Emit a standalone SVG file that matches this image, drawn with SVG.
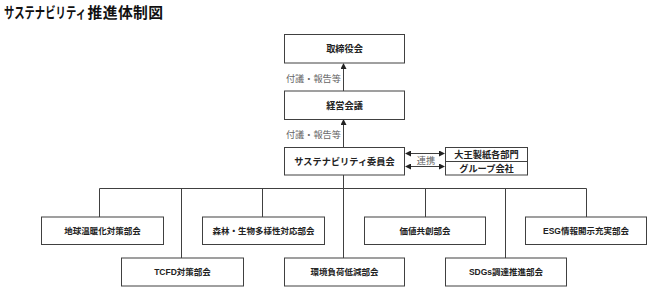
<svg xmlns="http://www.w3.org/2000/svg" width="648" height="287" viewBox="0 0 648 287">
<defs>
<style>
.box{fill:#fff;stroke:#404040;stroke-width:1}
.t{font-family:"Liberation Sans","Noto Sans CJK JP",sans-serif;text-anchor:middle;font-weight:bold;fill:#222}
.t1{font-size:9.2px}
.t2{font-size:8.5px}
.lbl{font-family:"Liberation Sans","Noto Sans CJK JP",sans-serif;font-size:9.2px;fill:#666}
.ln{fill:none;stroke:#404040;stroke-width:1}
.ttl{font-family:"Liberation Sans","Noto Sans CJK JP",sans-serif;font-size:14.8px;font-weight:bold;fill:#111}
</style>
<marker id="ah" markerWidth="6" markerHeight="6" refX="5" refY="3" orient="auto-start-reverse" markerUnits="userSpaceOnUse">
<path d="M0,0 L6,3 L0,6 Z" fill="#222"/>
</marker>
</defs>
<rect width="648" height="287" fill="#fff"/>
<text class="ttl" transform="translate(4,17.5) scale(0.7,1)" x="0" y="0">サステナビリティ</text>
<text class="ttl" x="87.5" y="17.5" letter-spacing="0.4">推進体制図</text>
<g id="connectors">
<line class="ln" x1="343.5" y1="91" x2="343.5" y2="64" marker-end="url(#ah)"/>
<line class="ln" x1="343.5" y1="147" x2="343.5" y2="120" marker-end="url(#ah)"/>
<line class="ln" x1="406" y1="153.5" x2="444" y2="153.5" marker-start="url(#ah)" marker-end="url(#ah)"/>
<line class="ln" x1="406" y1="166.5" x2="444" y2="166.5" marker-start="url(#ah)" marker-end="url(#ah)"/>
<path class="ln" d="M343.5,175 V258 M99.5,217 V188.5 H586.5 V217 M181.5,188.5 V258 M262.5,188.5 V217 M425.5,188.5 V217 M505.5,188.5 V258"/>
<text class="lbl" x="341" y="81.5" text-anchor="end">付議・報告等</text>
<text class="lbl" x="341" y="137.5" text-anchor="end">付議・報告等</text>
<text class="lbl" x="426" y="163.5" text-anchor="middle">連携</text>
</g>
<g id="board"><rect class="box" x="284.5" y="34.5" width="120" height="28.5"/><text class="t t1" x="344.5" y="52">取締役会</text></g>
<g id="mgmt"><rect class="box" x="284.5" y="91" width="120" height="28.5"/><text class="t t1" x="344.5" y="108.5">経営会議</text></g>
<g id="committee"><rect class="box" x="284.5" y="147.5" width="120" height="27.5"/><text class="t t1" x="344.5" y="164.5">サステナビリティ委員会</text></g>
<g id="partners"><rect class="box" x="445.5" y="147.5" width="82" height="27.5"/><line class="ln" x1="445.5" y1="161.5" x2="527.5" y2="161.5"/><text class="t t1" x="486.5" y="158">大王製紙各部門</text><text class="t t1" x="486.5" y="171.5">グループ会社</text></g>
<g id="n1"><rect class="box" x="41.5" y="217" width="122" height="27.5"/><text class="t t2" x="102.5" y="233.8">地球温暖化対策部会</text></g>
<g id="n2"><rect class="box" x="121.5" y="258" width="122" height="28"/><text class="t t2" x="182.5" y="275">TCFD対策部会</text></g>
<g id="n3"><rect class="box" x="202.5" y="217" width="122" height="27.5"/><text class="t t2" x="263.5" y="233.8">森林・生物多様性対応部会</text></g>
<g id="n4"><rect class="box" x="284.5" y="258" width="120" height="28"/><text class="t t2" x="344.5" y="275">環境負荷低減部会</text></g>
<g id="n5"><rect class="box" x="364.5" y="217" width="121" height="27.5"/><text class="t t2" x="425" y="233.8">価値共創部会</text></g>
<g id="n6"><rect class="box" x="445.5" y="258" width="121" height="28"/><text class="t t2" x="506" y="275">SDGs調達推進部会</text></g>
<g id="n7"><rect class="box" x="525.5" y="217" width="121" height="27.5"/><text class="t t2" x="586" y="233.8">ESG情報開示充実部会</text></g>
</svg>
